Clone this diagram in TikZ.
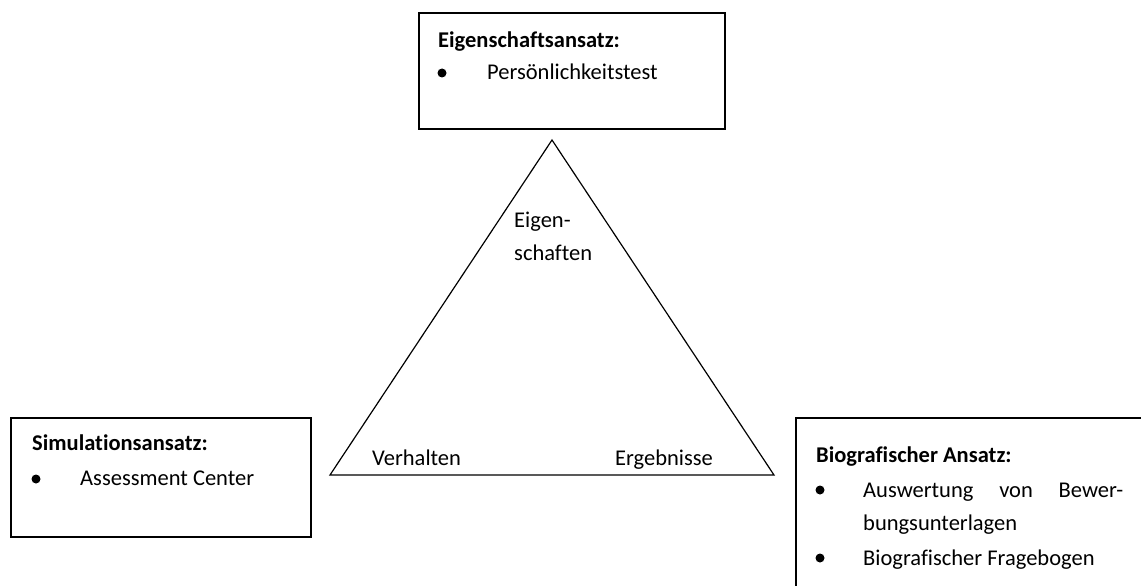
\documentclass[tikz,border=0pt]{standalone}
\usepackage{fontspec}
\setmainfont{Carlito}[Ligatures=NoCommon]
\usepackage{tikz}

\begin{document}
\begin{tikzpicture}[x=1pt, y=-1pt,
  box/.style={draw, line width=1.8pt, inner sep=0pt, anchor=north west},
  txt/.style={inner sep=0pt, anchor=base west, font=\fontsize{22.5}{33}\selectfont},
  head/.style={txt, font=\fontsize{22.5}{33}\selectfont\bfseries},
  bullet/.style={circle, fill, inner sep=0pt, minimum size=9pt}]
\useasboundingbox (0,0) rectangle (1141,586);
\clip (0,0) rectangle (1141,586);
% boxes
\node[box, minimum width=306pt, minimum height=116pt] (eigbox) at (418,12) {};
\node[box, minimum width=300pt, minimum height=119pt] (simbox) at (10,417) {};
\node[box, minimum width=400pt, minimum height=220pt] (biobox) at (795,417) {};
% triangle
\coordinate (top) at (552,140);
\coordinate (left) at (330,475);
\coordinate (right) at (774,475);
\draw[line width=1.2pt, line join=miter] (top) -- (right) -- (left) -- cycle;
\node[txt] (eig1) at (514,227) {Eigen-};
\node[txt] (eig2) at (514,260) {schaften};
\node[txt] (verh) at (372,465) {Verhalten};
\node[txt] (erg) at (615,465) {Ergebnisse};
% Eigenschaftsansatz
\node[head] (eighead) at (438,48) {Eigenschaftsansatz:};
\node[bullet] (eigbul) at (442,73) {};
\node[txt] (eigitem) at (487,80) {Persönlichkeitstest};
% Simulationsansatz
\node[head] (simhead) at (32,450) {Simulationsansatz:};
\node[bullet] (simbul) at (36,479) {};
\node[txt] (simitem) at (80,485) {Assessment Center};
% Biografischer Ansatz
\node[head] (biohead) at (816,462) {Biografischer Ansatz:};
\node[bullet] (biobul1) at (820,490) {};
\node[txt, text width=260pt, align=justify] (bioitem1) at (863,497)
  {Auswertung von Bewer-\linebreak bungsunterlagen};
\node[bullet] (biobul2) at (820,558) {};
\node[txt] (bioitem2) at (863,565) {Biografischer Fragebogen};
\end{tikzpicture}
\end{document}
